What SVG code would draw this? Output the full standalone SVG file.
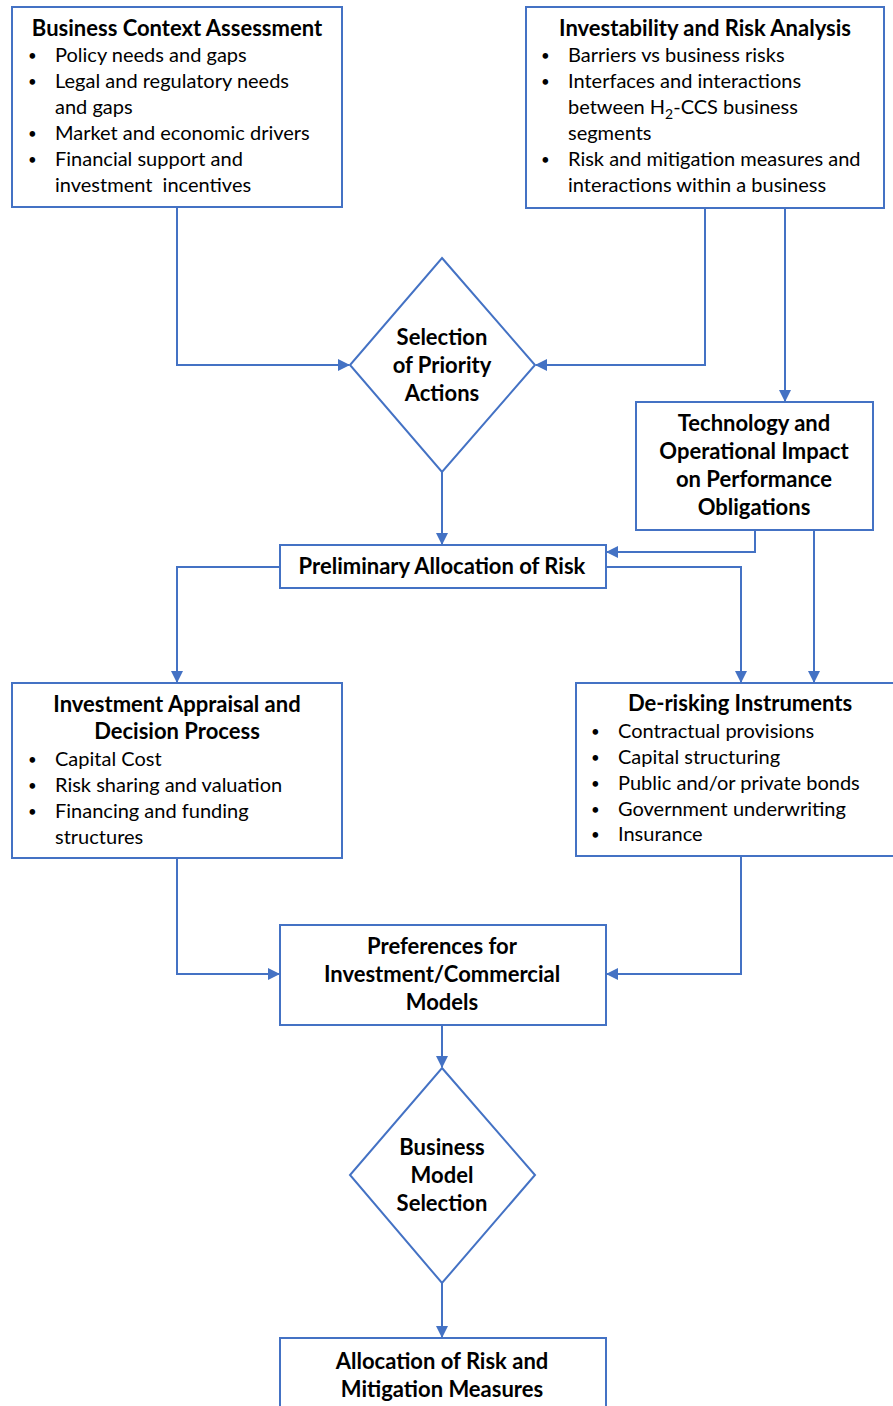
<svg xmlns="http://www.w3.org/2000/svg" width="893" height="1406" viewBox="0 0 893 1406">
<style>
.box{fill:#fff;stroke:#4472C4;stroke-width:2}
.ln{fill:none;stroke:#4472C4;stroke-width:2}
text{font-family:Lato,"Open Sans",sans-serif;font-size:20px;fill:#000}
.b{font-weight:bold;font-size:22px;text-anchor:middle}
.d{font-size:15px}
</style>
<defs>
<marker id="ah" markerUnits="userSpaceOnUse" markerWidth="12" markerHeight="12" viewBox="0 0 12 12" refX="11" refY="6" orient="auto"><path d="M0,0 L12,6 L0,12 Z" fill="#4472C4"/></marker>
</defs>
<g id="connectors">
<polyline class="ln" points="177,207 177,365 349,365" marker-end="url(#ah)"/>
<polyline class="ln" points="705,208 705,365 536,365" marker-end="url(#ah)"/>
<polyline class="ln" points="785,208 785,401" marker-end="url(#ah)"/>
<polyline class="ln" points="442,472 442,544" marker-end="url(#ah)"/>
<polyline class="ln" points="755,530 755,552 607,552" marker-end="url(#ah)"/>
<polyline class="ln" points="814,530 814,682" marker-end="url(#ah)"/>
<polyline class="ln" points="606,567 741,567 741,682" marker-end="url(#ah)"/>
<polyline class="ln" points="280,567 177,567 177,682" marker-end="url(#ah)"/>
<polyline class="ln" points="177,858 177,974 279,974" marker-end="url(#ah)"/>
<polyline class="ln" points="741,856 741,974 607,974" marker-end="url(#ah)"/>
<polyline class="ln" points="442,1025 442,1067" marker-end="url(#ah)"/>
<polyline class="ln" points="442,1283 442,1337" marker-end="url(#ah)"/>
</g>
<g id="business-context">
<rect class="box" x="12" y="7" width="330" height="200"/>
<text class="b" x="177" y="36">Business Context Assessment</text>
<text class="d" x="28" y="61">•</text><text x="55" y="62">Policy needs and gaps</text>
<text class="d" x="28" y="87">•</text><text x="55" y="88">Legal and regulatory needs</text>
<text x="55" y="114">and gaps</text>
<text class="d" x="28" y="139">•</text><text x="55" y="140">Market and economic drivers</text>
<text class="d" x="28" y="165">•</text><text x="55" y="166">Financial support and</text>
<text x="55" y="192" xml:space="preserve">investment  incentives</text>
</g>
<g id="investability">
<rect class="box" x="526" y="7" width="358" height="201"/>
<text class="b" x="705" y="36">Investability and Risk Analysis</text>
<text class="d" x="541" y="61">•</text><text x="568" y="62">Barriers vs business risks</text>
<text class="d" x="541" y="87">•</text><text x="568" y="88">Interfaces and interactions</text>
<text x="568" y="114">between H<tspan font-size="14" dy="5">2</tspan><tspan dy="-5">-CCS business</tspan></text>
<text x="568" y="140">segments</text>
<text class="d" x="541" y="165">•</text><text x="568" y="166">Risk and mitigation measures and</text>
<text x="568" y="192">interactions within a business</text>
</g>
<g id="selection-priority">
<polygon class="box" points="442,258 535,365 442,472 350,365"/>
<text class="b" x="442" y="345">Selection</text>
<text class="b" x="442" y="373">of Priority</text>
<text class="b" x="442" y="401">Actions</text>
</g>
<g id="technology">
<rect class="box" x="636" y="402" width="237" height="128"/>
<text class="b" x="754" y="431">Technology and</text>
<text class="b" x="754" y="459">Operational Impact</text>
<text class="b" x="754" y="487">on Performance</text>
<text class="b" x="754" y="515">Obligations</text>
</g>
<g id="preliminary">
<rect class="box" x="280" y="545" width="326" height="43"/>
<text class="b" x="442" y="574">Preliminary Allocation of Risk</text>
</g>
<g id="investment-appraisal">
<rect class="box" x="12" y="683" width="330" height="175"/>
<text class="b" x="177" y="712">Investment Appraisal and</text>
<text class="b" x="177" y="739">Decision Process</text>
<text class="d" x="28" y="765">•</text><text x="55" y="766">Capital Cost</text>
<text class="d" x="28" y="791">•</text><text x="55" y="792">Risk sharing and valuation</text>
<text class="d" x="28" y="817">•</text><text x="55" y="818">Financing and funding</text>
<text x="55" y="844">structures</text>
</g>
<g id="de-risking">
<rect class="box" x="576" y="683" width="320" height="173"/>
<text class="b" x="740" y="711">De-risking Instruments</text>
<text class="d" x="591" y="737">•</text><text x="618" y="738">Contractual provisions</text>
<text class="d" x="591" y="763">•</text><text x="618" y="764">Capital structuring</text>
<text class="d" x="591" y="789">•</text><text x="618" y="790">Public and/or private bonds</text>
<text class="d" x="591" y="815">•</text><text x="618" y="816">Government underwriting</text>
<text class="d" x="591" y="840">•</text><text x="618" y="841">Insurance</text>
</g>
<g id="preferences">
<rect class="box" x="280" y="925" width="326" height="100"/>
<text class="b" x="442" y="954">Preferences for</text>
<text class="b" x="442" y="982">Investment/Commercial</text>
<text class="b" x="442" y="1010">Models</text>
</g>
<g id="business-model-selection">
<polygon class="box" points="442,1068 535,1175 442,1283 350,1175"/>
<text class="b" x="442" y="1155">Business</text>
<text class="b" x="442" y="1183">Model</text>
<text class="b" x="442" y="1211">Selection</text>
</g>
<g id="allocation">
<rect class="box" x="280" y="1338" width="326" height="80"/>
<text class="b" x="442" y="1369">Allocation of Risk and</text>
<text class="b" x="442" y="1397">Mitigation Measures</text>
</g>
</svg>
